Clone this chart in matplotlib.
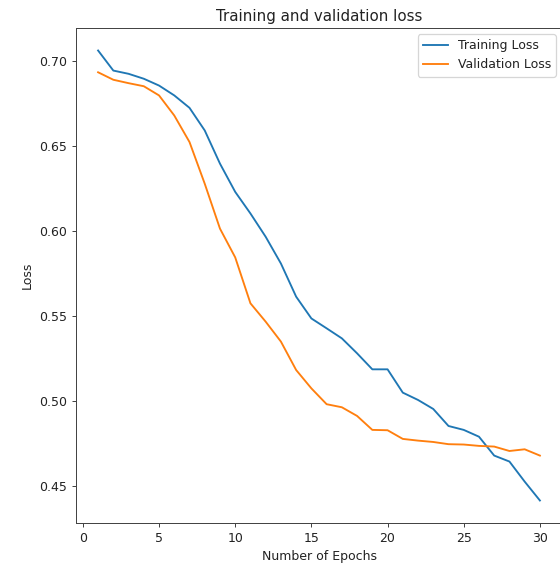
import matplotlib
matplotlib.use("Agg")
import matplotlib.pyplot as plt

epochs = list(range(1, 31))

train_loss = [0.7059, 0.6941, 0.6922, 0.6893, 0.6853, 0.6795, 0.6722, 0.6589,
              0.6394, 0.6228, 0.6101, 0.5964, 0.5807, 0.5612, 0.5484, 0.5426,
              0.5367, 0.5279, 0.5185, 0.5185, 0.5048, 0.5005, 0.4952, 0.4852,
              0.4829, 0.4789, 0.4678, 0.4643, 0.4525, 0.4414]

val_loss = [0.6931, 0.6887, 0.6867, 0.6849, 0.6795, 0.6677, 0.6521, 0.6276,
            0.6012, 0.5843, 0.5573, 0.5465, 0.5348, 0.5181, 0.5073, 0.4980,
            0.4962, 0.4911, 0.4829, 0.4827, 0.4776, 0.4766, 0.4758, 0.4745,
            0.4743, 0.4735, 0.4731, 0.4705, 0.4715, 0.4678]

DPI = 90
fig = plt.figure(figsize=(560 / DPI, 569 / DPI), dpi=DPI)
# the original screenshot is cut off on the right, so the axes run past the edge
ax = fig.add_axes([76 / 560, 46 / 569, 486 / 560, 495 / 569])

ax.plot(epochs, train_loss, label="Training Loss")
ax.plot(epochs, val_loss, label="Validation Loss")
ax.set_title("Training and validation loss", color="#222222")
ax.set_xlabel("Number of Epochs", color="#222222")
ax.set_ylabel("Loss", color="#222222")
ax.tick_params(colors="#444444", labelcolor="#222222")
for sp in ax.spines.values():
    sp.set_color("#444444")
ax.legend(labelcolor="#222222")

fig.savefig("out.png", dpi=DPI)
